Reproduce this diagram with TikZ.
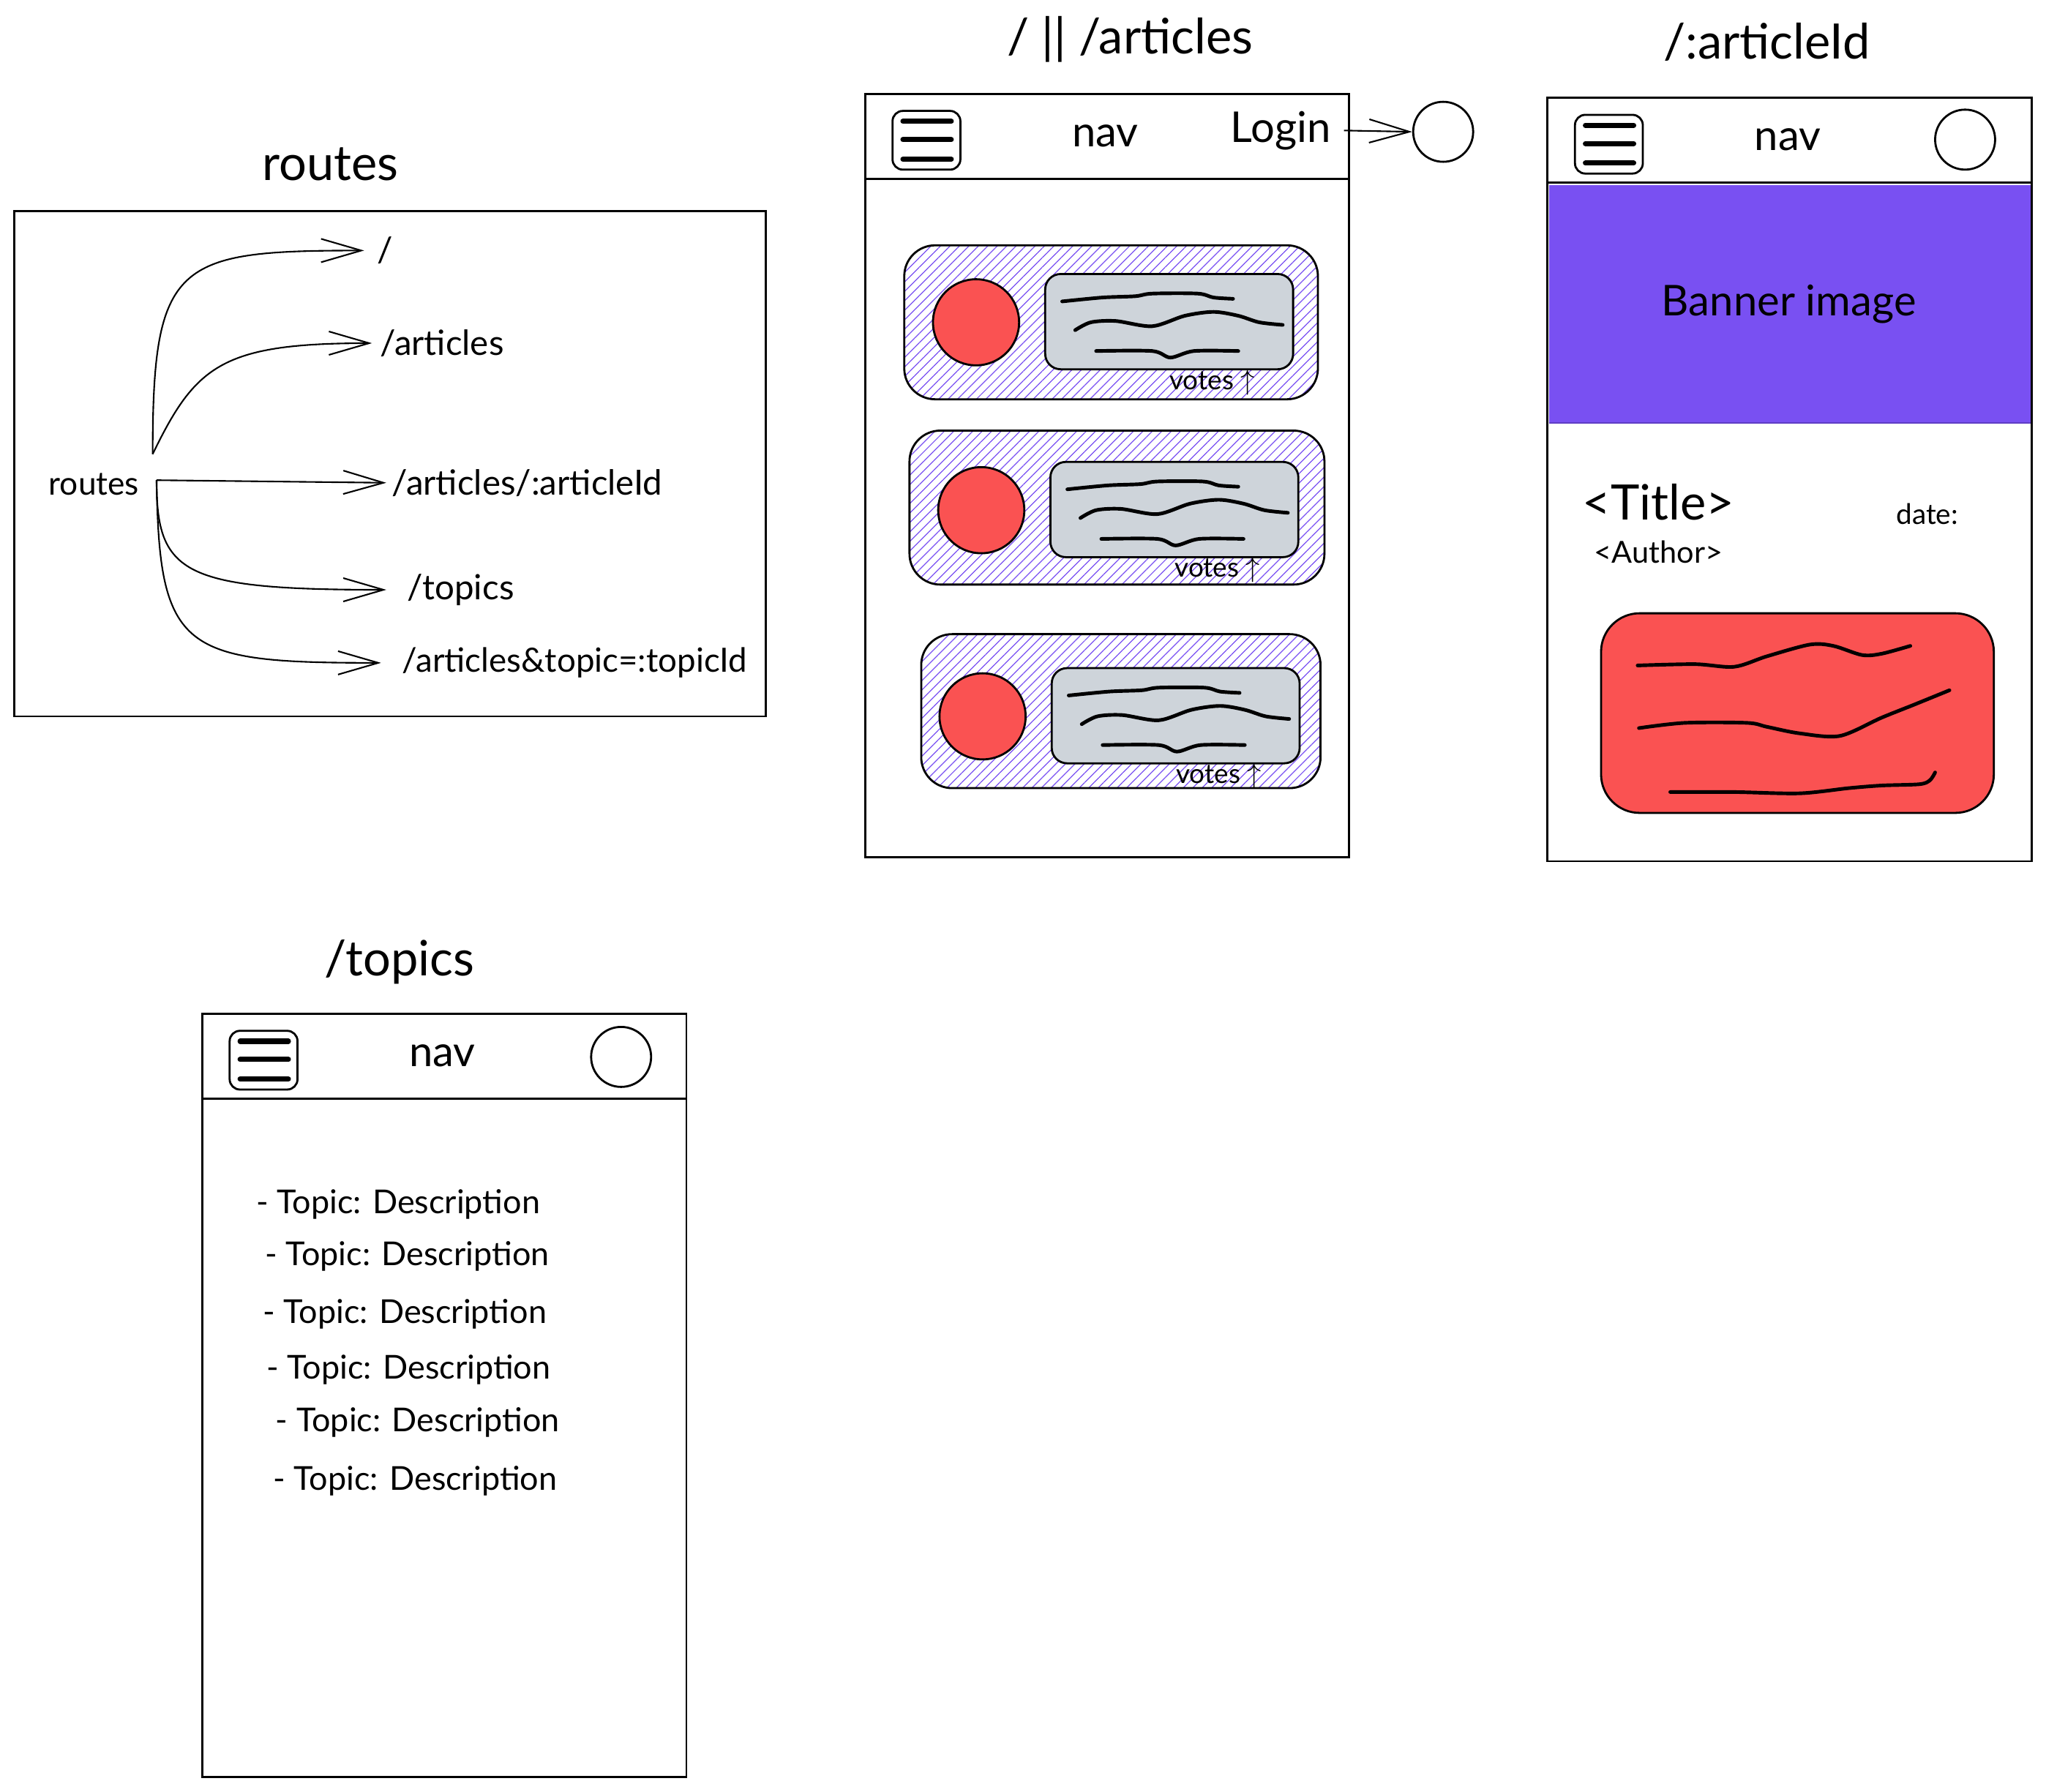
\documentclass[tikz,border=0pt]{standalone}
\usepackage{fontspec}
\setmainfont{Lato}
\usetikzlibrary{arrows.meta,patterns.meta,positioning}
\definecolor{hatchviolet}{HTML}{7950F2}
\definecolor{bannerviolet}{HTML}{7950F2}
\definecolor{bannerline}{HTML}{5F3DC4}
\definecolor{sketchred}{HTML}{FA5252}
\definecolor{cardgray}{HTML}{CED4DA}
\tikzset{
  frame/.style={draw, line width=0.8pt},
  titletxt/.style={font=\fontsize{19}{23}\selectfont},
  routetxt/.style={font=\fontsize{13.5}{16}\selectfont},
  navtxt/.style={font=\fontsize{16.5}{20}\selectfont},
  votestxt/.style={font=\fontsize{10.5}{12}\selectfont},
  topictxt/.style={font=\fontsize{12.8}{15}\selectfont, anchor=west, inner xsep=0pt},
  route/.style={line width=0.6pt, -{Straight Barb[length=5.5mm,width=3.2mm,line width=0.6pt]}},
  avatar/.style={draw, circle, line width=0.8pt, minimum size=0.82cm, inner sep=0pt},
  squiggle/.style={line width=1.4pt, line cap=round},
  hatch/.style={pattern={Lines[angle=45,distance=2.6pt,line width=0.35pt]}, pattern color=hatchviolet}
}
\begin{document}
\begin{tikzpicture}[x=0.01783cm,y=-0.01783cm]
\useasboundingbox (0,0) rectangle (1568,1373);

% routes box
\node[titletxt] (routestitle) at (253,126) {routes};
\draw[frame] (11,162) rectangle (587,549);
\node[font=\fontsize{12.6}{15}\selectfont] (routes) at (72,371) {routes};
\coordinate (up) at (117,348);
\coordinate (dn) at (120,368);
\node[routetxt, anchor=west, inner xsep=5pt] (r1) at (279,192) {/};
\node[routetxt, anchor=west, inner xsep=3pt] (r2) at (285,263) {/articles};
\node[routetxt, anchor=west, inner xsep=2pt] (r3) at (296,370) {/articles/:articleId};
\node[routetxt, anchor=west, inner xsep=8pt] (r4) at (296,452) {/topics};
\node[routetxt, font=\fontsize{13}{16}\selectfont, anchor=west, inner xsep=8pt] (r5) at (292,508) {/articles\&topic=:topicId};
\draw[route] (up) .. controls (117,200) and (135,192) .. (r1.west);
\draw[route] (up) .. controls (150,280) and (170,263) .. (r2.west);
\draw[route] (dn) -- (r3.west);
\draw[route] (dn) .. controls (120,440) and (140,452) .. (r4.west);
\draw[route] (dn) .. controls (122,500) and (140,508) .. (r5.west);

% titles
\node[titletxt] (hometitle) at (866,30) {/ || /articles};
\node[titletxt] (articletitle) at (1354,32) {/:articleId};
\node[titletxt] (topicstitle) at (306,737) {/topics};

% banner
\fill[bannerviolet] (1187,142) rectangle (1556,324);
\draw[bannerline, line width=0.6pt] (1187,324) -- (1556,324);
\node[navtxt] (banner) at (1371,233) {Banner image};

% phone frames with nav bar
\foreach \px/\py in {663/72,1186/75,155/777}{
  \draw[frame] (\px,\py) rectangle ++(371,585);
  \draw[frame] (\px,\py+65) -- ++(371,0);
  \draw[frame, rounded corners=4pt] (\px+21,\py+13) rectangle ++(52,45);
  \foreach \dy in {21,35,50}
    \draw[line width=2pt, line cap=round] (\px+29,\py+\dy) -- ++(37,0);
  \node[navtxt] (nav\px) at (\px+184,\py+32) {nav};
}
\node[avatar] (avright) at (1506,107) {};
\node[avatar] (avtopics) at (476,810) {};

% login
\node[navtxt, anchor=east, inner xsep=5pt] (login) at (1030,100) {Login};
\node[avatar] (avlogin) at (1106,101) {};
\draw[route] (login.east) -- (avlogin.west);

% article cards
\foreach \cx/\cy/\cw/\dx/\dy in {693/188/317/0/0,697/330/318/0/2,706/486/306/-8/4}{
  \draw[line width=0.8pt, rounded corners=12pt, hatch] (\cx,\cy) rectangle ++(\cw,118);
  \draw[line width=0.8pt, fill=sketchred] (\cx+55+\dx,\cy+59+\dy) circle[radius=33];
  \draw[line width=0.8pt, rounded corners=6pt, fill=cardgray] (\cx+108+\dx,\cy+22+\dy) rectangle ++(190,73);
  \begin{scope}[shift={(\cx+108+\dx,\cy+22+\dy)}, squiggle]
    \draw plot[smooth] coordinates {(13,21) (44,18) (69,17) (82,15) (117,15) (129,18) (144,19)};
    \draw plot[smooth] coordinates {(23,43) (35,37) (54,36) (82,40) (107,32) (129,29) (148,32) (164,37) (182,39)};
    \draw plot[smooth] coordinates {(39,59) (82,59) (96,64) (114,59) (148,59)};
  \end{scope}
  \node[votestxt] (votes\cx) at (\cx+236+\dx,\cy+105+\dy) {votes $\uparrow$};
}

% article page
\node[titletxt] (titletag) at (1271,385) {<Title>};
\node[font=\fontsize{11}{13}\selectfont] (date) at (1477,394) {date:};
\node[font=\fontsize{11.8}{14}\selectfont] (author) at (1271,423) {<Author>};
\draw[line width=0.8pt, fill=sketchred, rounded corners=15pt] (1227,470) rectangle (1528,623);
\begin{scope}[shift={(1228,472)}, squiggle]
  \draw plot[smooth] coordinates {(27,38) (71,37) (101,39) (126,31) (159,22) (177,23) (199,30) (214,29) (236,23)};
  \draw plot[smooth] coordinates {(28,86) (63,82) (111,82) (126,85) (151,90) (182,92) (214,78) (239,68) (266,57)};
  \draw plot[smooth] coordinates {(52,135) (101,135) (151,136) (189,132) (214,130) (243,129) (251,126) (255,120)};
\end{scope}

% topics list
\foreach \i/\tx/\ty in {1/196/923,2/203/963,3/201/1007,4/204/1050,5/211/1090,6/209/1135}
  \node[topictxt] (topic\i) at (\tx,\ty) {- Topic: Description};
\end{tikzpicture}
\end{document}
